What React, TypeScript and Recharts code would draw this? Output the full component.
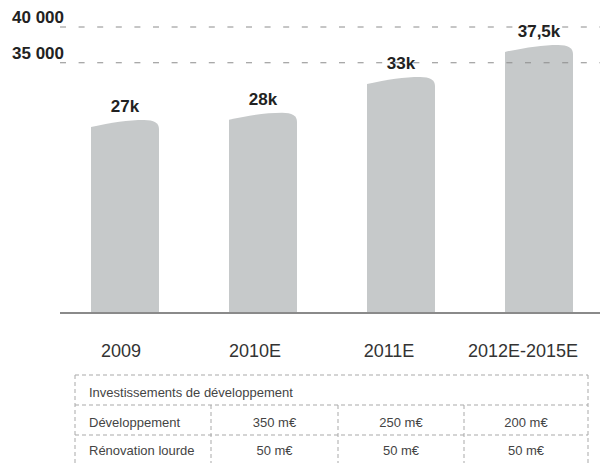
import React from 'react';
import { BarChart, Bar, XAxis, YAxis, ReferenceLine, LabelList } from 'recharts';

const YEARS = ['2009', '2010E', '2011E', '2012E-2015E'];
const ROOMS = [27000, 28000, 33000, 37500];
const BAR_LABELS = ['27k', '28k', '33k', '37,5k'];
const Y_TICKS = [35000, 40000];
const Y_TICK_LABELS = ['35 000', '40 000'];
const Y_DOMAIN: [number, number] = [0, 40000];

const TABLE_TITLE = 'Investissements de développement';
const TABLE_ROW_NAMES = ['Développement', 'Rénovation lourde'];
const DEV_VALUES = ['350 m€', '250 m€', '200 m€'];
const RENO_VALUES = ['50 m€', '50 m€', '50 m€'];

const data = YEARS.map((year, i) => ({ year, value: ROOMS[i], label: BAR_LABELS[i] }));

const FONT = '"Liberation Sans", Arial, Helvetica, sans-serif';

const CurvedTopBar = (props: any) => {
  const { x, y, width, height, fill } = props;
  if (width == null || height == null) return null;
  const bottom = y + height;
  const w = width;
  const d = `M${x},${bottom} L${x},${y + 7} C${x + w * 0.3},${y + 2.5} ${x + w * 0.55},${y} ${x + w * 0.78},${y} Q${x + w},${y} ${x + w},${y + 9} L${x + w},${bottom} Z`;
  return <path d={d} fill={fill} />;
};

const renderBarLabel = (props: any) => {
  const { x, y, width, value } = props;
  return (
    <text x={x + width / 2} y={y - 8} textAnchor="middle" fontSize={17} fontWeight="bold" fill="#222" fontFamily={FONT}>
      {value}
    </text>
  );
};

const YTick = (props: any) => {
  const { y, payload } = props;
  const idx = Y_TICKS.indexOf(payload.value);
  return (
    <text x={12} y={y - 4} textAnchor="start" fontSize={17} fontWeight="bold" fill="#222" fontFamily={FONT}>
      {Y_TICK_LABELS[idx]}
    </text>
  );
};

const XTick = (props: any) => {
  const { x, y, payload } = props;
  return (
    <text x={x} y={y + 44} textAnchor="middle" fontSize={18} fill="#333" fontFamily={FONT}>
      {payload.value}
    </text>
  );
};

const T_LEFT = 75;
const T_RIGHT = 588;
const T_TOP = 375;
const T_ROW1 = 405;
const T_ROW2 = 435;
const T_BOTTOM = 463;
const T_COLS = [211, 338, 464, 588];
const DASH = '4 3';
const T_STROKE = '#a9a9a9';

const Table = () => {
  const colCenters = [0, 1, 2].map((i) => (T_COLS[i] + T_COLS[i + 1]) / 2);
  const txt = { fontSize: 13, fill: '#444', fontFamily: FONT } as const;
  return (
    <svg width={600} height={463} style={{ position: 'absolute', left: 0, top: 0, pointerEvents: 'none' }}>
      <line x1={T_LEFT} y1={T_TOP} x2={T_RIGHT} y2={T_TOP} stroke={T_STROKE} strokeDasharray={DASH} />
      <line x1={T_LEFT} y1={T_ROW1} x2={T_RIGHT} y2={T_ROW1} stroke={T_STROKE} strokeDasharray={DASH} />
      <line x1={T_LEFT} y1={T_ROW2} x2={T_RIGHT} y2={T_ROW2} stroke={T_STROKE} strokeDasharray={DASH} />
      <line x1={T_LEFT} y1={T_TOP} x2={T_LEFT} y2={T_BOTTOM} stroke={T_STROKE} strokeDasharray={DASH} />
      <line x1={T_RIGHT} y1={T_TOP} x2={T_RIGHT} y2={T_BOTTOM} stroke={T_STROKE} strokeDasharray={DASH} />
      {T_COLS.slice(0, 3).map((cx) => (
        <line key={cx} x1={cx} y1={T_ROW1} x2={cx} y2={T_BOTTOM} stroke={T_STROKE} strokeDasharray={DASH} />
      ))}
      <text x={89} y={397} {...txt}>{TABLE_TITLE}</text>
      <text x={89} y={427} {...txt}>{TABLE_ROW_NAMES[0]}</text>
      <text x={89} y={455} {...txt}>{TABLE_ROW_NAMES[1]}</text>
      {DEV_VALUES.map((v, i) => (
        <text key={'d' + i} x={colCenters[i]} y={427} textAnchor="middle" {...txt}>{v}</text>
      ))}
      {RENO_VALUES.map((v, i) => (
        <text key={'r' + i} x={colCenters[i]} y={455} textAnchor="middle" {...txt}>{v}</text>
      ))}
    </svg>
  );
};

export default function App() {
  return (
    <div style={{ position: 'absolute', left: 0, top: 0, width: 600, height: 463, overflow: 'hidden', background: '#fff', fontFamily: FONT }}>
      <BarChart width={612} height={463} data={data} margin={{ top: 27, right: 0, bottom: 100, left: 0 }}>
        <XAxis xAxisId={0} dataKey="year" hide height={0} padding={{ left: -4, right: 4 }} />
        <XAxis
          xAxisId="labels"
          dataKey="year"
          padding={{ left: -6, right: 22 }}
          axisLine={{ stroke: '#8a8a8a', strokeWidth: 2 }}
          tickLine={false}
          tickSize={0}
          tickMargin={0}
          height={50}
          tick={<XTick />}
          interval={0}
        />
        <YAxis
          domain={Y_DOMAIN}
          ticks={Y_TICKS}
          width={60}
          axisLine={false}
          tickLine={false}
          tick={<YTick />}
          allowDataOverflow
        />
        {Y_TICKS.map((t) => (
          <ReferenceLine key={t} y={t} stroke="#8c8c8c" strokeDasharray="6 12.6" ifOverflow="visible" />
        ))}
        <Bar dataKey="value" fill="#c6c9ca" barSize={68} shape={<CurvedTopBar />} isAnimationActive={false}>
          <LabelList dataKey="label" content={renderBarLabel} />
        </Bar>
      </BarChart>
      <Table />
    </div>
  );
}
